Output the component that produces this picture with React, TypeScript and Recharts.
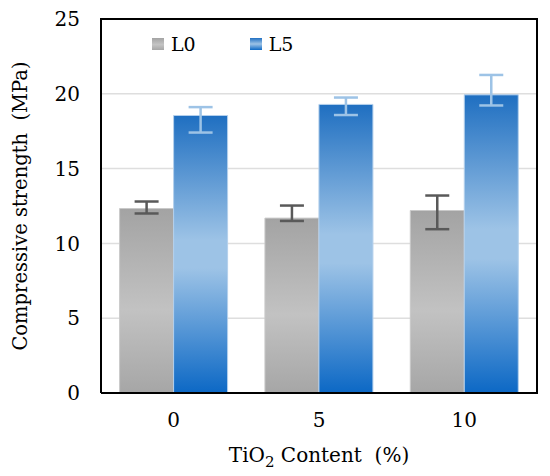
import React from 'react';
import { BarChart, Bar, XAxis, YAxis, CartesianGrid, ErrorBar, Legend, ReferenceLine } from 'recharts';

const categories = ['0', '5', '10'];
const l0Values = [12.33, 11.69, 12.2];
const l0Errors: [number, number][] = [[0.33, 0.47], [0.19, 0.84], [1.25, 1.0]];
const l5Values = [18.55, 19.29, 19.93];
const l5Errors: [number, number][] = [[1.14, 0.56], [0.71, 0.46], [0.71, 1.33]];
const yTicks = [0, 5, 10, 15, 20, 25];

const data = categories.map((c, i) => ({
  cat: c,
  L0: l0Values[i],
  L0err: l0Errors[i],
  L5: l5Values[i],
  L5err: l5Errors[i],
}));

const FONT = '"DejaVu Serif", serif';
const W = 550;
const H = 476;
const MARGIN = { top: 19, right: 13, bottom: 23, left: 0 };
const Y_W = 101;
const X_H = 60;
const plotLeft = MARGIN.left + Y_W;
const plotTop = MARGIN.top;
const plotW = W - plotLeft - MARGIN.right;
const plotH = H - MARGIN.top - MARGIN.bottom - X_H;

const legendItems = [
  { name: 'L0', bg: 'linear-gradient(to bottom, #a3a3a3, #c4c4c4 55%, #a6a6a6)' },
  { name: 'L5', bg: 'linear-gradient(to bottom, #2170c2, #9dc3e6 50%, #0d69c5)' },
];

const renderLegend = () => (
  <div style={{ display: 'flex', alignItems: 'center', fontFamily: FONT, fontSize: 19, color: '#000' }}>
    {legendItems.map((it, i) => (
      <div key={it.name} style={{ display: 'flex', alignItems: 'center', marginRight: i === 0 ? 54 : 0 }}>
        <div style={{ width: 12, height: 12, background: it.bg, marginRight: 7 }} />
        <span>{it.name}</span>
      </div>
    ))}
  </div>
);

const XTitle = (props: any) => {
  const vb = props.viewBox || {};
  const cx = vb.x + vb.width / 2;
  return (
    <text x={cx} y={462} textAnchor="middle" fontFamily={FONT} fontSize={20} fill="#000" style={{ whiteSpace: 'pre' }}>
      <tspan>TiO</tspan>
      <tspan dy={5} fontSize={15}>2</tspan>
      <tspan dy={-5}>{'\u00a0Content\u00a0\u00a0(%)'}</tspan>
    </text>
  );
};

export default function App() {
  return (
    <div style={{ position: 'absolute', left: 0, top: 0, width: W, height: H, background: '#fff' }}>
      <BarChart width={W} height={H} data={data} margin={MARGIN} barCategoryGap="12.8%" barGap={0}>
        <defs>
          <linearGradient id="gGray" x1="0" y1="0" x2="0" y2="1">
            <stop offset="0" stopColor="#a3a3a3" />
            <stop offset="0.55" stopColor="#c2c2c2" />
            <stop offset="1" stopColor="#a6a6a6" />
          </linearGradient>
          <linearGradient id="gBlue" x1="0" y1="0" x2="0" y2="1">
            <stop offset="0" stopColor="#1f6fc1" />
            <stop offset="0.45" stopColor="#9dc3e6" />
            <stop offset="0.55" stopColor="#9dc3e6" />
            <stop offset="1" stopColor="#0c68c5" />
          </linearGradient>
        </defs>
        <CartesianGrid vertical={false} stroke="#dedede" strokeWidth={1.5} />
        <XAxis
          dataKey="cat"
          tickLine={false}
          axisLine={{ stroke: '#000', strokeWidth: 2 }}
          tick={{ fill: '#000', fontFamily: FONT, fontSize: 20 }}
          tickMargin={14}
          height={X_H}
          label={<XTitle />}
        />
        <YAxis
          domain={[0, 25]}
          ticks={yTicks}
          tickLine={false}
          axisLine={{ stroke: '#000', strokeWidth: 2 }}
          tick={{ fill: '#000', fontFamily: FONT, fontSize: 20 }}
          tickMargin={15}
          width={Y_W}
          label={{
            value: 'Compressive strength\u00a0\u00a0(MPa)',
            angle: -90,
            position: 'insideLeft',
            offset: 20,
            style: { textAnchor: 'middle', fill: '#000', fontFamily: FONT, fontSize: 19.5 },
          }}
        />
        <ReferenceLine y={25} stroke="#000" strokeWidth={2} />
        <ReferenceLine x="10" position="end" stroke="#000" strokeWidth={2} />
        <Legend
          content={renderLegend}
          layout="horizontal"
          verticalAlign="middle"
          align="center"
          wrapperStyle={{ position: 'absolute', top: 33, left: 152, width: 'auto' }}
        />
        <Bar dataKey="L0" fill="url(#gGray)" stroke="#c9c9c9" strokeWidth={1} isAnimationActive={false}>
          <ErrorBar dataKey="L0err" width={12} stroke="#595959" strokeWidth={2.5} direction="y" />
        </Bar>
        <Bar dataKey="L5" fill="url(#gBlue)" stroke="#b4d0ec" strokeWidth={1} isAnimationActive={false}>
          <ErrorBar dataKey="L5err" width={12} stroke="#9dc3e6" strokeWidth={2.5} direction="y" />
        </Bar>
      </BarChart>
      <div
        style={{
          position: 'absolute',
          left: plotLeft - 1,
          top: plotTop - 1,
          width: plotW + 2,
          height: plotH + 2,
          boxSizing: 'border-box',
          borderTop: '2px solid #000',
          borderRight: '2px solid #000',
          pointerEvents: 'none',
        }}
      />
    </div>
  );
}
